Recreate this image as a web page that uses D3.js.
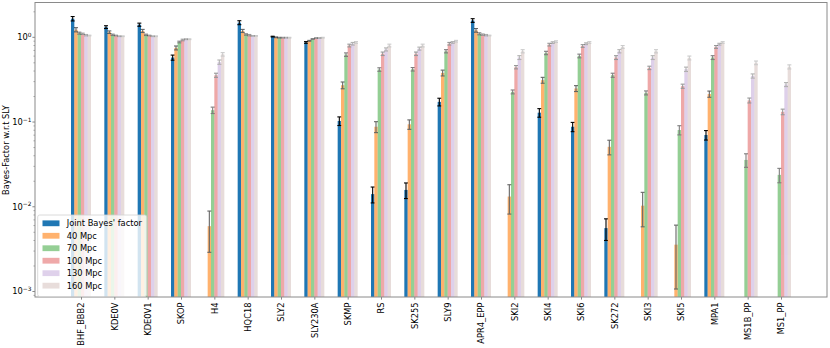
<!DOCTYPE html>
<html><head><meta charset="utf-8">
<script src="https://cdn.jsdelivr.net/npm/d3@7"></script>
<style>body{margin:0;background:#fff}svg{display:block;font-family:"DejaVu Sans",sans-serif}</style>
</head><body><svg id="c" width="830" height="348"></svg>
<script>
const categories = ["BHF_BBB2","KDE0V","KDE0V1","SKOP","H4","HQC18","SLY2","SLY230A","SKMP","RS","SK255","SLY9","APR4_EPP","SKI2","SKI4","SKI6","SK272","SKI3","SKI5","MPA1","MS1B_PP","MS1_PP"];
const seriesNames = ["Joint Bayes' factor","40 Mpc","70 Mpc","100 Mpc","130 Mpc","160 Mpc"];
const seriesColors = ["#1f77b4","#ff7f0e","#2ca02c","#d62728","#9467bd","#8c564b"];
const seriesAlpha = [1,0.6,0.5,0.4,0.3,0.2];
const joint  = [1.66,1.32,1.41,0.577,null,1.49,1.02,0.87,0.103,0.0141,0.0158,0.173,1.58,null,0.129,0.088,0.0056,null,null,0.0703,null,null];
const jointErr = [0.10,0.05,0.06,0.04,null,0.08,0.01,0.02,0.012,0.003,0.0033,0.018,0.08,null,0.015,0.011,0.0016,null,null,0.009,null,null];
const mpc40  = [1.23,1.15,1.19,0.75,0.0059,1.19,1.0,0.91,0.272,0.088,0.094,0.38,1.21,0.0132,0.312,0.249,0.051,0.0103,0.00357,0.214,null,null];
const err40  = [0.07,0.04,0.05,0.04,0.003,0.05,0.01,0.01,0.025,0.013,0.012,0.03,0.06,0.005,0.025,0.02,0.01,0.0045,0.0025,0.018,null,null];
const mpc70  = [1.12,1.07,1.07,0.88,0.138,1.08,0.99,0.955,0.625,0.417,0.42,0.685,1.10,0.227,0.654,0.603,0.357,0.221,0.0805,0.577,0.0357,0.0238];
const err70  = [0.03,0.02,0.02,0.02,0.012,0.02,0.01,0.01,0.03,0.02,0.02,0.03,0.03,0.012,0.03,0.03,0.02,0.012,0.01,0.03,0.0065,0.0046];
const mpc100 = [1.10,1.05,1.05,0.93,0.357,1.06,0.99,0.98,0.80,0.64,0.64,0.84,1.075,0.444,0.82,0.79,0.577,0.436,0.265,0.77,0.18,0.132];
const err100 = [0.02,0.01,0.01,0.02,0.02,0.02,0.01,0.01,0.03,0.03,0.03,0.03,0.02,0.02,0.03,0.03,0.03,0.02,0.015,0.03,0.012,0.01];
const mpc130 = [1.06,1.03,1.03,0.95,0.51,1.04,0.99,0.98,0.84,0.72,0.736,0.87,1.06,0.577,0.866,0.84,0.685,0.577,0.42,0.83,0.35,0.277];
const err130 = [0.02,0.01,0.01,0.01,0.03,0.01,0.01,0.01,0.03,0.03,0.03,0.02,0.02,0.03,0.02,0.02,0.03,0.03,0.025,0.02,0.02,0.015];
const mpc160 = [1.05,1.03,1.03,0.95,0.63,1.04,0.99,0.99,0.87,0.80,0.80,0.90,1.05,0.685,0.89,0.87,0.77,0.685,0.571,0.87,0.50,0.448];
const err160 = [0.01,0.01,0.01,0.01,0.03,0.01,0.01,0.01,0.02,0.03,0.03,0.02,0.01,0.03,0.02,0.02,0.03,0.03,0.03,0.02,0.025,0.025];
const yTickExps = [0,-1,-2,-3];

const values = [joint,mpc40,mpc70,mpc100,mpc130,mpc160];
const errors = [jointErr,err40,err70,err100,err130,err160];

const L=35,R=827,T=2.5,B=297;
const svg = d3.select("#c");
const x = d3.scaleLinear().domain([-1.13,22.63]).range([L,R]);
const y = d3.scaleLog().domain([Math.pow(10,-3.065),Math.pow(10,0.411)]).range([B,T]);
const bw = 0.1;
const FS = 8.3;

// bars
values.forEach((vals,s)=>{
  const g = svg.append("g").attr("opacity",seriesAlpha[s]);
  const data = vals.map((v,i)=>({v,i,e:errors[s][i]})).filter(d=>d.v!=null);
  g.selectAll("rect").data(data).join("rect")
    .attr("x",d=>x(d.i+s*bw-bw/2))
    .attr("width",x(bw)-x(0))
    .attr("y",d=>y(d.v))
    .attr("height",d=>B-y(d.v))
    .attr("fill",seriesColors[s]);
  const eg = g.selectAll("g.err").data(data).join("g").attr("class","err");
  eg.each(function(d){
    const cx = x(d.i+s*bw);
    const lo = d.v-d.e>0 ? y(d.v-d.e) : B;
    const hi = y(d.v+d.e);
    const el = d3.select(this);
    el.append("line").attr("x1",cx).attr("x2",cx).attr("y1",lo).attr("y2",hi);
    el.append("line").attr("x1",cx-2).attr("x2",cx+2).attr("y1",hi).attr("y2",hi);
    if(d.v-d.e>0) el.append("line").attr("x1",cx-2).attr("x2",cx+2).attr("y1",lo).attr("y2",lo);
  });
  eg.selectAll("line").attr("stroke","#000").attr("stroke-width",1.1);
});

// y axis ticks
const ax = svg.append("g");
for(let k=-4;k<=0;k++){
  for(let m=2;m<=9;m++){
    const v=m*Math.pow(10,k);
    if(v<y.domain()[0]||v>y.domain()[1]) continue;
    ax.append("line").attr("x1",L).attr("x2",L-1.5).attr("y1",y(v)).attr("y2",y(v)).attr("stroke","#666").attr("stroke-width",0.6);
  }
}
yTickExps.forEach(e=>{
  const yy=y(Math.pow(10,e));
  ax.append("line").attr("x1",L).attr("x2",L-2.6).attr("y1",yy).attr("y2",yy).attr("stroke","#555").attr("stroke-width",0.7);
  const t=ax.append("text").attr("x",31.5).attr("y",yy+3).attr("text-anchor","end").attr("font-size",FS).attr("fill","#000");
  t.append("tspan").text("10");
  t.append("tspan").attr("dy",-3.3).attr("font-size",5.9).text(e<0?"\u2212"+(-e):String(e));
});

// x axis
const xa = svg.append("g").attr("transform",`translate(0,${B})`)
  .call(d3.axisBottom(x).tickValues(categories.map((c,i)=>i+0.25)).tickFormat((d,i)=>categories[i]).tickSize(2.6).tickPadding(2.5));
xa.select(".domain").remove();
xa.selectAll(".tick line").attr("stroke","#555").attr("stroke-width",0.7);
xa.selectAll(".tick text").attr("font-size",FS).attr("font-family","DejaVu Sans").attr("fill","#000")
  .attr("transform","rotate(-90)").attr("text-anchor","end").attr("dy","0.35em").attr("x",-5.5).attr("y",0);

// frame
svg.append("rect").attr("x",L).attr("y",T).attr("width",R-L).attr("height",B-T)
  .attr("fill","none").attr("stroke","#8a8a8a").attr("stroke-width",1);

// y label
svg.append("text").attr("transform","translate(6,150) rotate(-90)").attr("text-anchor","middle")
  .attr("dominant-baseline","central").attr("font-size",FS).text("Bayes-Factor w.r.t SLY");

// legend
const lg = svg.append("g");
lg.append("rect").attr("x",37.7).attr("y",215).attr("width",109).attr("height",81.5).attr("rx",2)
  .attr("fill","#fff").attr("fill-opacity",0.8).attr("stroke","#d0d0d0").attr("stroke-width",0.8);
seriesNames.forEach((n,k)=>{
  const cy = 223.3+k*12.47;
  lg.append("rect").attr("x",42.5).attr("y",cy-2.9).attr("width",17).attr("height",5.8)
    .attr("fill",seriesColors[k]).attr("fill-opacity",seriesAlpha[k]);
  lg.append("text").attr("x",66.7).attr("y",cy).attr("dominant-baseline","central").attr("font-size",FS).text(n);
});
</script></body></html>
